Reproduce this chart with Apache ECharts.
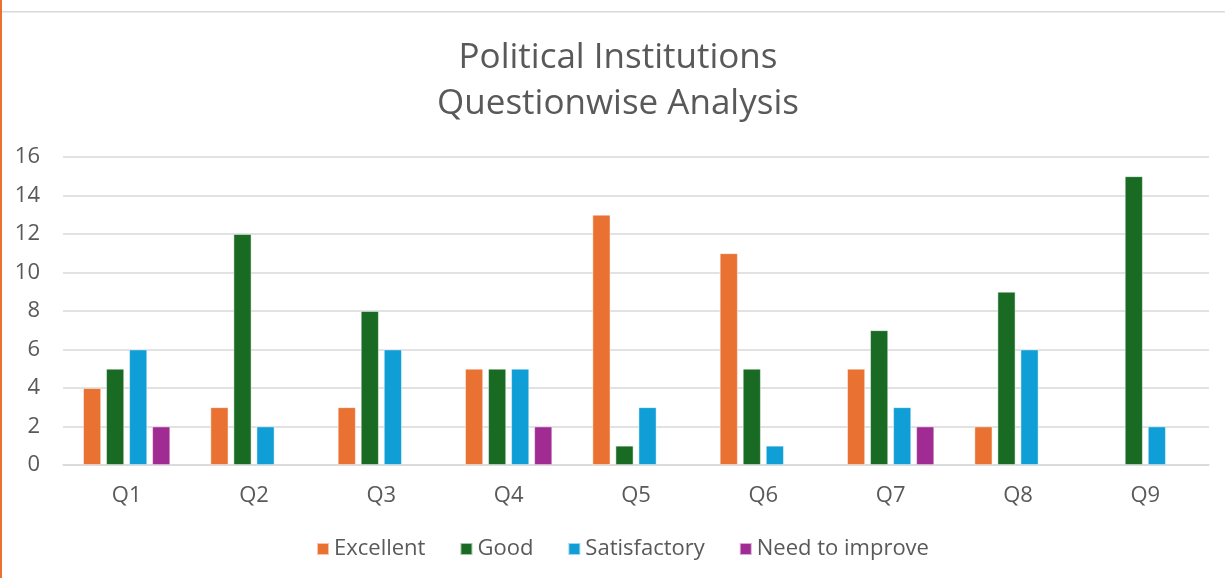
<!DOCTYPE html>
<html>
<head>
<meta charset="utf-8">
<script src="https://cdn.jsdelivr.net/npm/echarts@6/dist/echarts.min.js"></script>
<style>
html,body{margin:0;padding:0;background:#fff;}
#c{width:1225px;height:578px;}
</style>
</head>
<body>
<div id="c"></div>
<script>
const categories = ['Q1','Q2','Q3','Q4','Q5','Q6','Q7','Q8','Q9'];
const excellent = [4,3,3,5,13,11,5,2,0];
const good = [5,12,8,5,1,5,7,9,15];
const satisfactory = [6,2,6,5,3,1,3,6,2];
const needToImprove = [2,0,0,2,0,0,2,0,0];
const seriesNames = ['Excellent','Good','Satisfactory','Need to improve'];
const colors = ['#E97132','#196B24','#0F9ED5','#A02B93'];
const yTicks = [0,2,4,6,8,10,12,14,16];

const FONT = 'Open Sans';
const chart = echarts.init(document.getElementById('c'), null, {renderer:'canvas'});
const allData = [excellent, good, satisfactory, needToImprove];
chart.setOption({
  animation:false,
  color: colors,
  title:{
    text:'Political Institutions\nQuestionwise Analysis',
    left:613, top:30,
    textAlign:'center',
    textStyle:{fontFamily:FONT, fontSize:35, fontWeight:'normal', color:'#595959', lineHeight:46}
  },
  legend:{
    bottom:13, left:311,
    itemWidth:12, itemHeight:12, itemGap:34,
    icon:'rect',
    textStyle:{fontFamily:FONT, fontSize:22, color:'#595959'},
    data: seriesNames
  },
  grid:{left:63, right:16, top:157, bottom:113, containLabel:false},
  xAxis:{
    type:'category', data:categories,
    axisLine:{lineStyle:{color:'#D9D9D9', width:1.5}},
    axisTick:{show:false},
    axisLabel:{fontFamily:FONT, fontSize:22, color:'#595959', margin:20}
  },
  yAxis:{
    type:'value', min:yTicks[0], max:yTicks[yTicks.length-1], interval:2,
    axisLine:{show:false}, axisTick:{show:false},
    splitLine:{lineStyle:{color:'#D9D9D9', width:1.5}},
    axisLabel:{fontFamily:FONT, fontSize:22, color:'#595959', margin:23}
  },
  graphic:[
    {type:'rect', shape:{x:0,y:0,width:2,height:578}, style:{fill:'#E97132'}},
    {type:'rect', shape:{x:2,y:11,width:1223,height:1.5}, style:{fill:'#D9D9D9'}}
  ],
  series: seriesNames.map((n,i)=>({
    name:n, type:'bar', data: allData[i].map(v=> v===0 ? null : v),
    barWidth:18, barGap:'28%',
    itemStyle:{color:colors[i], borderColor:'rgba(255,255,255,0.6)', borderWidth:0.8}
  }))
});
</script>
</body>
</html>
